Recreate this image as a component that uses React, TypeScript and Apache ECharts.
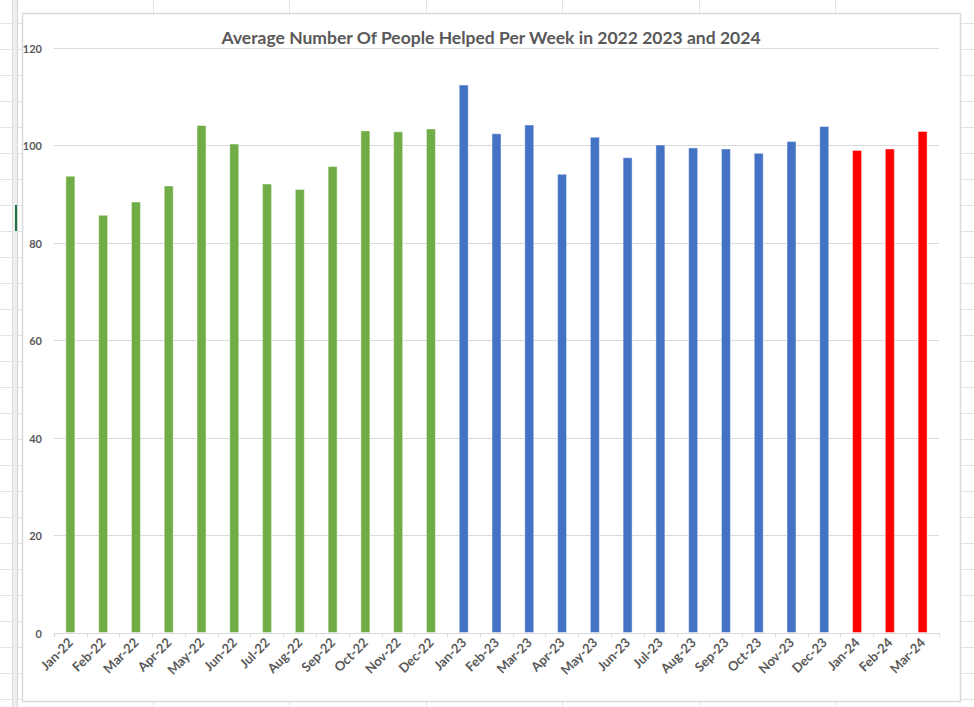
import React, { useEffect, useRef } from "react";
import * as echarts from "echarts";

const categories = [
  "Jan-22", "Feb-22", "Mar-22", "Apr-22", "May-22", "Jun-22", "Jul-22", "Aug-22", "Sep-22", "Oct-22", "Nov-22", "Dec-22",
  "Jan-23", "Feb-23", "Mar-23", "Apr-23", "May-23", "Jun-23", "Jul-23", "Aug-23", "Sep-23", "Oct-23", "Nov-23", "Dec-23",
  "Jan-24", "Feb-24", "Mar-24",
];
const values = [
  93.8, 85.8, 88.5, 91.8, 104.2, 100.4, 92.2, 91.1, 95.8, 103.1, 102.9, 103.5,
  112.5, 102.5, 104.3, 94.2, 101.8, 97.6, 100.2, 99.6, 99.4, 98.5, 100.9, 104.0,
  99.1, 99.4, 103.0,
];
const yearColors: Record<string, string> = { "22": "#70AD47", "23": "#4472C4", "24": "#FF0000" };
const yTicks = { min: 0, max: 120, interval: 20 };
const titleText = "Average Number Of People Helped Per Week in 2022 2023 and 2024";

const sheetCols = [153, 289, 426, 562, 699, 835];

export default function App() {
  const ref = useRef<HTMLDivElement>(null);
  useEffect(() => {
    if (!ref.current) return;
    const chart = echarts.init(ref.current, null, { renderer: "svg" });
    const graphics: any[] = [];
    // spreadsheet background
    sheetCols.forEach((x) =>
      graphics.push({ type: "line", z: -30, shape: { x1: x + 0.5, y1: 0, x2: x + 0.5, y2: 707 }, style: { stroke: "#e3e3e3", lineWidth: 1 } })
    );
    for (let y = 23; y < 707; y += 26) {
      graphics.push({ type: "line", z: -30, shape: { x1: 0, y1: y + 0.5, x2: 974, y2: y + 0.5 }, style: { stroke: "#e3e3e3", lineWidth: 1 } });
    }
    graphics.push({ type: "rect", z: -29, shape: { x: 12, y: 0, width: 5, height: 707 }, style: { fill: "#eeeeee" } });
    graphics.push({ type: "line", z: -28, shape: { x1: 17.5, y1: 0, x2: 17.5, y2: 707 }, style: { stroke: "#d4d4d4", lineWidth: 1 } });
    graphics.push({ type: "line", z: -28, shape: { x1: 12.5, y1: 0, x2: 12.5, y2: 707 }, style: { stroke: "#e0e0e0", lineWidth: 1 } });
    graphics.push({ type: "rect", z: -27, shape: { x: 15, y: 205, width: 2, height: 26 }, style: { fill: "#217346" } });
    // chart frame
    graphics.push({
      type: "rect", z: -20,
      shape: { x: 22.5, y: 13.5, width: 938, height: 688 },
      style: { fill: "#ffffff", stroke: "#d9d9d9", lineWidth: 1.5 },
    });

    chart.setOption({
      animation: false,
      backgroundColor: "transparent",
      title: {
        text: titleText,
        left: 486,
        top: 23,
        textAlign: "center",
        textStyle: { fontFamily: "Lato", fontWeight: "bold", fontSize: 17.5, color: "#595959" },
      },
      graphic: graphics,
      grid: { left: 54, right: 35, top: 48, bottom: 74, containLabel: false },
      xAxis: {
        type: "category",
        data: categories,
        axisLine: { lineStyle: { color: "#d9d9d9", width: 1 } },
        axisTick: { show: true, alignWithLabel: false, length: 4, lineStyle: { color: "#d9d9d9" } },
        axisLabel: {
          interval: 0,
          rotate: 45,
          margin: 7,
          fontFamily: "Lato",
          fontWeight: "bold",
          fontSize: 13,
          color: "#595959",
        },
      },
      yAxis: {
        type: "value",
        min: yTicks.min,
        max: yTicks.max,
        interval: yTicks.interval,
        axisLine: { show: false },
        axisTick: { show: false },
        axisLabel: { margin: 12, fontFamily: "Lato", fontWeight: "bold", fontSize: 11, color: "#595959" },
        splitLine: { lineStyle: { color: "#d9d9d9", width: 1 } },
      },
      series: [
        {
          type: "bar",
          barWidth: 10,
          data: values.map((v, i) => ({
            value: v,
            itemStyle: { color: yearColors[categories[i].slice(-2)] },
          })),
          itemStyle: { borderColor: "rgba(255,255,255,0.45)", borderWidth: 1 },
        },
      ],
    });
    return () => chart.dispose();
  }, []);
  return (
    <div
      ref={ref}
      style={{ position: "fixed", left: 0, top: 0, width: 974, height: 707, background: "#ffffff" }}
    />
  );
}
